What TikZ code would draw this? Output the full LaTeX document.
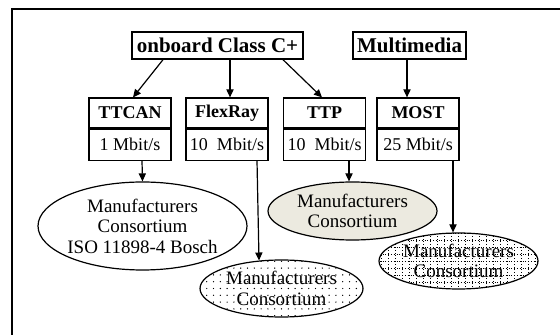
\documentclass[tikz,border=0pt]{standalone}
\usepackage{fontspec}
\setmainfont{Liberation Serif}
\usetikzlibrary{positioning,arrows.meta,shapes.geometric}
\definecolor{ttpfill}{RGB}{236,234,224}

\begin{document}
\begin{tikzpicture}[x=0.5pt,y=-0.5pt,>={Triangle[length=4pt,width=3.6pt]},
                    line width=0.6pt]
  \tikzstyle{classbox}=[draw,line width=0.7pt,inner sep=0pt,minimum height=13.5pt,
                        font=\fontsize{10.5}{12}\selectfont\bfseries]
  \tikzstyle{busbox}=[draw,inner sep=0pt,minimum width=41pt,minimum height=15pt,
                      font=\fontsize{9}{10}\selectfont\bfseries]
  \tikzstyle{ratebox}=[busbox,minimum height=15.5pt,font=\fontsize{9}{10}\selectfont]
  \tikzstyle{maker}=[ellipse,draw,inner sep=0pt]
  \tikzstyle{makertext}=[align=center,font=\fontsize{9.5}{10.25}\selectfont]
  \tikzstyle{link}=[->]
  \tikzstyle{dotfill}=[path picture={
      \foreach \i in {-13,...,13}
        \foreach \j in {-5,...,5}
          {\fill ([shift={(\i*3.4pt,\j*3.4pt)}]path picture bounding box.center) circle (0.35pt);}}]
  \tikzstyle{gridfill}=[path picture={
      \foreach \i in {-12,...,12}
        {\draw[densely dotted,line width=0.4pt]
           ([shift={(\i*3.5pt,-20pt)}]path picture bounding box.center) -- ++(0,40pt);}
      \foreach \j in {-5,...,5}
        {\draw[densely dotted,line width=0.4pt]
           ([shift={(-45pt,\j*3.5pt)}]path picture bounding box.center) -- ++(90pt,0);}}]

  \useasboundingbox (0,0) rectangle (560,335);
  \draw[line width=0.8pt] (12,335) -- (12,9) -- (560,9);

  \node[classbox,minimum width=85.5pt] (onboard) at (217.5,45.5) {onboard Class C+};
  \node[classbox,minimum width=56.5pt] (multi)   at (409.5,45.5) {Multimedia};

  \node[busbox]  (ttcan)       at (130,113)          {TTCAN};
  \node[ratebox] (ttcanrate)   [below=0pt of ttcan]   {1 Mbit/s};
  \node[busbox]  (flexray)     at (227,113)          {FlexRay};
  \node[ratebox] (flexrayrate) [below=0pt of flexray] {10~~Mbit/s};
  \node[busbox]  (ttp)         at (324.5,113)        {TTP};
  \node[ratebox] (ttprate)     [below=0pt of ttp]     {10~~Mbit/s};
  \node[busbox]  (most)        at (418,113)          {MOST};
  \node[ratebox] (mostrate)    [below=0pt of most]    {25 Mbit/s};

  \node[maker,minimum width=104.5pt,minimum height=44pt,
        label={[makertext]center:Manufacturers\\Consortium\\ISO 11898-4 Bosch}]
        (isobosch) at (142.5,226) {};
  \node[maker,dotfill,minimum width=81.5pt,minimum height=28.5pt,
        label={[makertext]center:Manufacturers\\Consortium}]
        (flexcons) at (281.5,288.5) {};
  \node[maker,fill=ttpfill,minimum width=84.5pt,minimum height=29pt,
        label={[makertext]center:Manufacturers\\Consortium}]
        (ttpcons) at (352.5,211) {};
  \node[maker,gridfill,minimum width=79.5pt,minimum height=28pt,
        label={[makertext]center:Manufacturers\\Consortium}]
        (mostcons) at (458.5,261) {};

  \draw[link] ([xshift=-27.25pt]onboard.south) -- ([xshift=1.5pt]ttcan.north);
  \draw[link] ([xshift=6.25pt]onboard.south)   -- ([xshift=1.5pt]flexray.north);
  \draw[link] ([xshift=32.75pt]onboard.south)  -- ([xshift=-1.25pt]ttp.north);
  \draw[link] ([xshift=-1.25pt]multi.south)    -- ([xshift=-5.5pt]most.north);

  \draw[link] ([xshift=6pt]ttcanrate.south)    -- (isobosch.north);
  \draw[link] ([xshift=15pt]flexrayrate.south) -- ([xshift=-11.25pt,yshift=-0.55pt]flexcons.north);
  \draw[link] ([xshift=12.25pt]ttprate.south)  -- ([xshift=-1.75pt]ttpcons.north);
  \draw[link] ([xshift=17.5pt]mostrate.south)  -- ([xshift=-2.75pt]mostcons.north);
\end{tikzpicture}
\end{document}
